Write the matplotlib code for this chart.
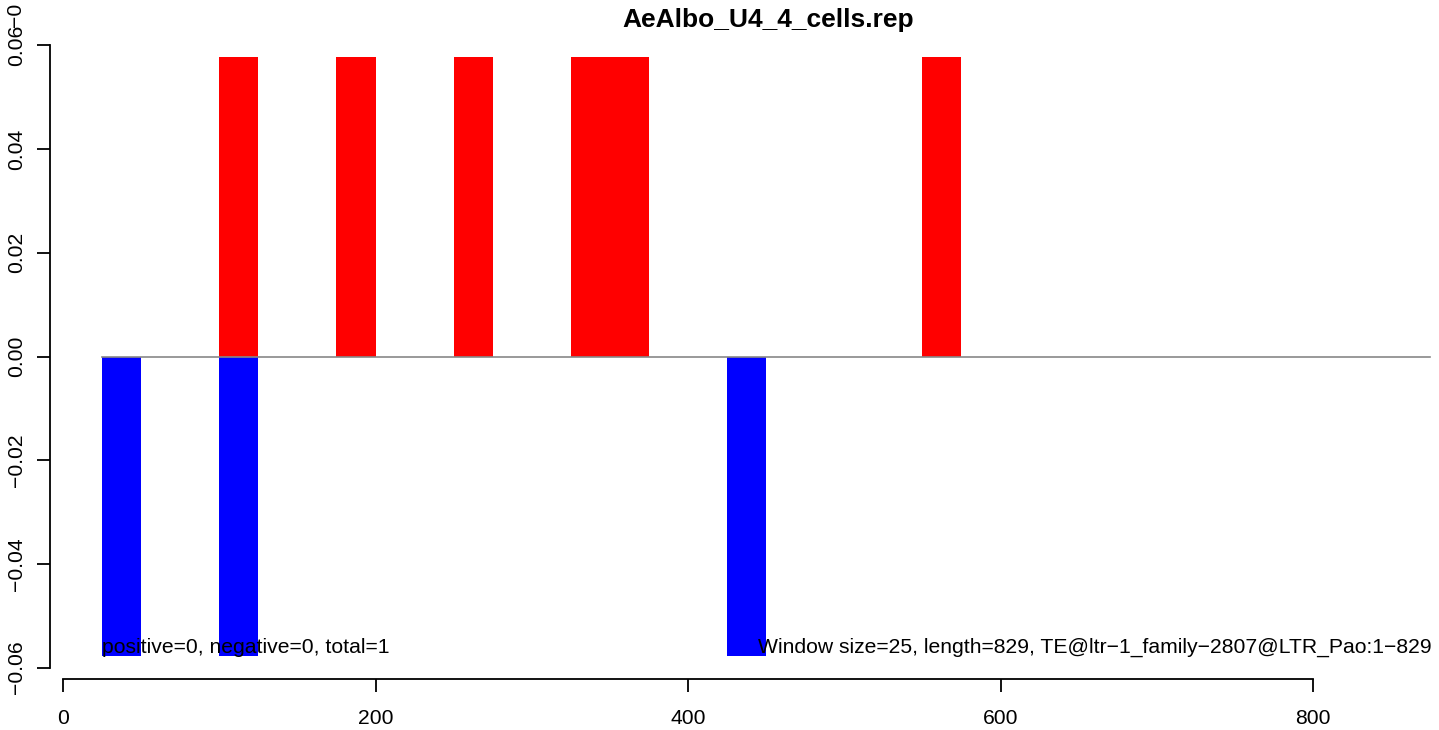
import numpy as np
import matplotlib.pyplot as plt

plt.rcParams['font.family'] = ['Liberation Sans', 'DejaVu Sans']

window = 25
pos_start = [100, 175, 250, 325, 350, 550]
pos_val = [0.0577, 0.0577, 0.0577, 0.0577, 0.0577, 0.0577]
neg_start = [25, 100, 425]
neg_val = [-0.0577, -0.0577, -0.0577]
line_x = [25, 875]
xticks = [0, 200, 400, 600, 800]
yticks = [-0.06, -0.04, -0.02, 0.00, 0.02, 0.04, 0.06]
title = "AeAlbo_U4_4_cells.rep"
left_note = "positive=0, negative=0, total=1"
right_note = "Window size=25, length=829, TE@ltr\u22121_family\u22122807@LTR_Pao:1\u2212829"

W, H = 1439, 730
fs = 15.2
fig = plt.figure(figsize=(W / 100, H / 100), dpi=100)
ax = fig.add_axes([50 / W, 1 - 679 / H, (W - 50) / W, (679 - 34) / H])

ax.bar(pos_start, pos_val, width=window, align='edge', color='red', linewidth=0)
ax.bar(neg_start, neg_val, width=window, align='edge', color='blue', linewidth=0)
ax.plot(line_x, [0, 0], color='#888888', lw=1.2)

ax.set_xlim((50 - 63) / 1.5625, (W - 63) / 1.5625)
ax.set_ylim(-0.0622, 0.0622)

for s in ['top', 'right']:
    ax.spines[s].set_visible(False)
ax.spines['bottom'].set_bounds(0, 800)
ax.spines['left'].set_bounds(-0.06, 0.06)
ax.spines['bottom'].set_linewidth(1.3)
ax.spines['left'].set_linewidth(1.3)

ax.set_xticks(xticks)
ax.set_xticklabels([str(v) for v in xticks])
ax.set_yticks(yticks)
ax.set_yticklabels(['%.2f' % v if v >= 0 else '\u2212%.2f' % -v for v in yticks],
                   rotation=90, va='center')
ax.tick_params(axis='x', length=9.4, width=1.3, labelsize=fs, pad=12)
ax.tick_params(axis='y', length=9.4, width=1.3, labelsize=fs, pad=8)

fig.text(15 / W, 1 - 27 / H, "\u22120", rotation=90, ha='center', va='bottom', fontsize=fs)

ax.text(25, -0.0561, left_note, ha='left', va='center', fontsize=fs)
ax.text(876, -0.0561, right_note, ha='right', va='center', fontsize=fs)

fig.text(768 / W, 1 - 20 / H, title, ha='center', va='center', fontsize=19, fontweight='bold')

fig.savefig('out.png', dpi=100)
